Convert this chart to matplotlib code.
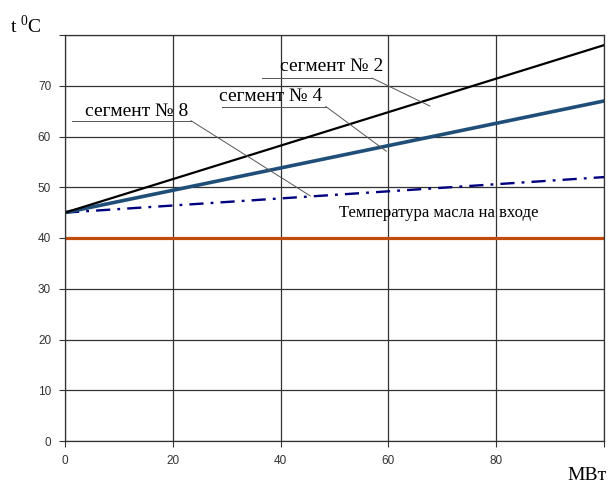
import matplotlib
matplotlib.use("Agg")
import matplotlib.pyplot as plt

plt.rcParams['mathtext.fontset'] = 'custom'
plt.rcParams['mathtext.rm'] = 'Liberation Serif'

# Data
power = [0, 100]
seg2 = [45, 78]
seg4 = [45, 67]
seg8 = [45, 52]
oil_in = [40, 40]
xticks = [0, 20, 40, 60, 80, 100]
xticklabels = ['0', '20', '40', '60', '80', '']
yticks = [0, 10, 20, 30, 40, 50, 60, 70, 80]
yticklabels = ['0', '10', '20', '30', '40', '50', '60', '70', '']

fig = plt.figure(figsize=(6.08, 4.83), dpi=100)
fig.patch.set_facecolor('white')
ax = fig.add_axes([65/608, 1-441/483, (604-65)/608, (441-35)/483])
ax.set_xlim(0, 100)
ax.set_ylim(0, 80)

ax.set_xticks(xticks)
ax.set_xticklabels(xticklabels)
ax.set_yticks(yticks)
ax.set_yticklabels(yticklabels)
ax.tick_params(axis='both', direction='out', length=4, width=0.8, color='#333333',
               labelsize=8.5, labelcolor='#333333', pad=6)
for lab in ax.get_xticklabels() + ax.get_yticklabels():
    lab.set_fontfamily('Liberation Sans')
ax.grid(True, color='#333333', linewidth=0.9)
ax.set_axisbelow(True)
for s in ax.spines.values():
    s.set_color('#333333')
    s.set_linewidth(0.9)

ax.plot(power, oil_in, color='#BF4B0C', linewidth=2.3, solid_capstyle='butt')
ax.plot(power, seg8, color='#00007F', linewidth=1.7, dashes=[6, 3, 1.2, 3])
ax.plot(power, seg4, color='#1F4E79', linewidth=2.6)
ax.plot(power, seg2, color='#000000', linewidth=1.6)

serif = 'Liberation Serif'
lc = '#555555'
# segment 2 label
ax.text(39.9, 72.9, 'сегмент № 2', fontsize=14, family=serif, va='baseline', ha='left')
ax.plot([36.5, 57.0], [71.5, 71.5], color=lc, lw=0.7, clip_on=False)
ax.plot([57.0, 67.7], [71.5, 66.0], color=lc, lw=0.7, clip_on=False)
# segment 4 label
ax.text(28.6, 67.0, 'сегмент № 4', fontsize=14, family=serif, va='baseline', ha='left')
ax.plot([29.1, 48.4], [65.9, 65.9], color=lc, lw=0.7, clip_on=False)
ax.plot([48.4, 59.6], [65.9, 57.1], color=lc, lw=0.7, clip_on=False)
# segment 8 label
ax.text(3.7, 64.0, 'сегмент № 8', fontsize=14, family=serif, va='baseline', ha='left')
ax.plot([1.3, 23.4], [63.1, 63.1], color=lc, lw=0.7, clip_on=False)
ax.plot([23.4, 45.5], [63.1, 48.3], color=lc, lw=0.7, clip_on=False)
# oil inlet label
ax.text(50.8, 44.1, 'Температура масла на входе', fontsize=12, family=serif,
        va='baseline', ha='left')

fig.text(10/608, 1-33/483, r't $^{0}$C', fontsize=14, family=serif, va='baseline', ha='left')
fig.text(607/608, 1-480/483, 'МВт', fontsize=14, family=serif, va='baseline', ha='right')

fig.savefig('out.png', dpi=100, facecolor='white')
